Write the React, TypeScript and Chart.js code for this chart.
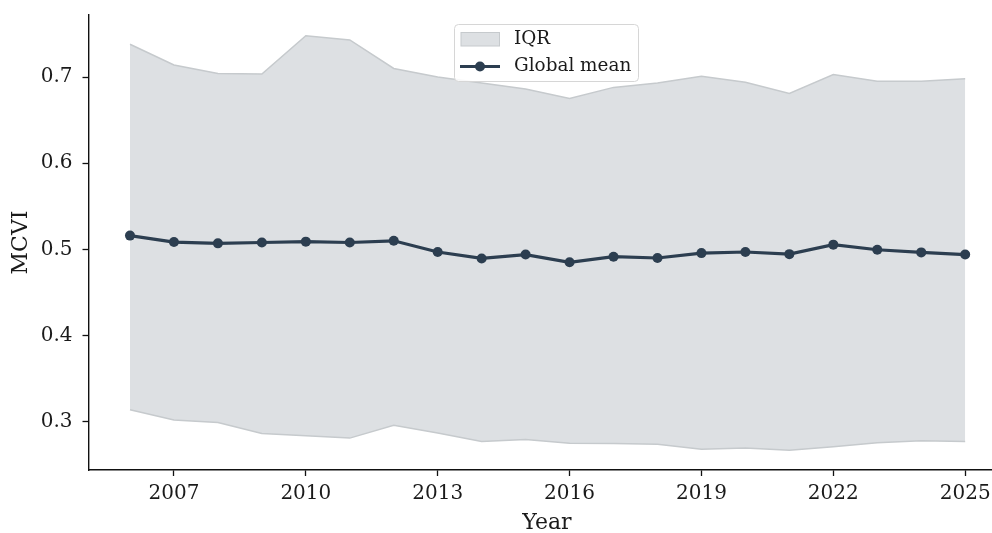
import React, { useEffect, useRef } from "react";
import { Chart, registerables } from "chart.js";

Chart.register(...registerables);

const years = [2006, 2007, 2008, 2009, 2010, 2011, 2012, 2013, 2014, 2015, 2016, 2017, 2018, 2019, 2020, 2021, 2022, 2023, 2024, 2025];
const iqrUpper = [0.738, 0.714, 0.704, 0.7035, 0.748, 0.743, 0.71, 0.7, 0.693, 0.686, 0.675, 0.688, 0.693, 0.701, 0.694, 0.681, 0.703, 0.695, 0.695, 0.698];
const globalMean = [0.516, 0.5085, 0.507, 0.508, 0.509, 0.508, 0.51, 0.497, 0.4895, 0.494, 0.485, 0.4915, 0.49, 0.4957, 0.497, 0.4945, 0.5055, 0.4996, 0.4965, 0.494];
const iqrLower = [0.314, 0.302, 0.299, 0.2864, 0.2837, 0.281, 0.296, 0.287, 0.277, 0.2795, 0.275, 0.2748, 0.274, 0.268, 0.2694, 0.267, 0.271, 0.2756, 0.278, 0.277];
const xTickValues = [2007, 2010, 2013, 2016, 2019, 2022, 2025];
const yTickValues = [0.3, 0.4, 0.5, 0.6, 0.7];
const legendLabels = ["IQR", "Global mean"];
const xTitle = "Year";
const yTitle = "MCVI";

const FONT = "'DejaVu Serif', serif";
const NAVY = "#2c3e50";
const FILL = "#dde0e3";
const EDGE = "#c6cacd";

const legendPlugin = {
  id: "customLegend",
  afterDraw(chart: any) {
    const ctx = chart.ctx;
    ctx.save();
    const x = 454.5, y = 24.5, w = 184, h = 57, r = 4;
    ctx.beginPath();
    ctx.moveTo(x + r, y);
    ctx.arcTo(x + w, y, x + w, y + h, r);
    ctx.arcTo(x + w, y + h, x, y + h, r);
    ctx.arcTo(x, y + h, x, y, r);
    ctx.arcTo(x, y, x + w, y, r);
    ctx.closePath();
    ctx.fillStyle = "rgba(255,255,255,0.85)";
    ctx.fill();
    ctx.strokeStyle = "#d6d6d6";
    ctx.lineWidth = 1;
    ctx.stroke();
    // IQR patch
    ctx.fillStyle = FILL;
    ctx.fillRect(461, 32.5, 38.5, 13.5);
    ctx.strokeStyle = EDGE;
    ctx.strokeRect(461, 32.5, 38.5, 13.5);
    // line sample
    ctx.strokeStyle = NAVY;
    ctx.lineWidth = 3;
    ctx.beginPath();
    ctx.moveTo(460, 66.5);
    ctx.lineTo(500, 66.5);
    ctx.stroke();
    ctx.fillStyle = NAVY;
    ctx.beginPath();
    ctx.arc(480, 66.5, 5, 0, Math.PI * 2);
    ctx.fill();
    ctx.fillStyle = "#1a1a1a";
    ctx.font = `18.4px ${FONT}`;
    ctx.textBaseline = "middle";
    ctx.textAlign = "left";
    ctx.fillText(legendLabels[0], 514, 39.5);
    ctx.fillText(legendLabels[1], 514, 66.5);
    // x axis title (centred on the full, partly cropped axes)
    ctx.font = `22px ${FONT}`;
    ctx.textAlign = "center";
    ctx.fillText(xTitle, 547, 523);
    ctx.restore();
  },
};

export default function App() {
  const ref = useRef<HTMLCanvasElement>(null);
  useEffect(() => {
    document.body.style.margin = "0";
    const ctx = ref.current!.getContext("2d")!;
    const chart = new Chart(ctx, {
      type: "line",
      data: {
        datasets: [
          {
            label: legendLabels[0],
            data: years.map((yr, i) => ({ x: yr, y: iqrUpper[i] })),
            borderColor: EDGE,
            borderWidth: 1.5,
            backgroundColor: FILL,
            pointRadius: 0,
            fill: "+1",
            tension: 0,
            order: 2,
          },
          {
            label: "lower",
            data: years.map((yr, i) => ({ x: yr, y: iqrLower[i] })),
            borderColor: EDGE,
            borderWidth: 1.5,
            pointRadius: 0,
            fill: false,
            tension: 0,
            order: 1,
          },
          {
            label: legendLabels[1],
            data: years.map((yr, i) => ({ x: yr, y: globalMean[i] })),
            borderColor: NAVY,
            backgroundColor: NAVY,
            borderWidth: 3.2,
            pointRadius: 5,
            pointBackgroundColor: NAVY,
            pointBorderWidth: 0,
            fill: false,
            tension: 0,
            order: 0,
          },
        ],
      },
      plugins: [legendPlugin],
      options: {
        responsive: false,
        animation: false,
        layout: { autoPadding: false, padding: { left: 0, right: 0, top: 15, bottom: 0 } },
        plugins: {
          legend: { display: false },
          tooltip: { enabled: false },
        },
        scales: {
          x: {
            type: "linear",
            min: 2005.056,
            max: 2025.61,
            afterBuildTicks: (scale: any) => {
              scale.ticks = xTickValues.map((v) => ({ value: v }));
            },
            afterFit: (scale: any) => {
              scale.height = 63;
              scale.paddingLeft = 0;
              scale.paddingRight = 0;
            },
            grid: { drawOnChartArea: false, drawTicks: true, tickLength: 6, tickColor: "#111", tickWidth: 1.3 },
            border: { display: true, color: "#111", width: 1.4 },
            ticks: {
              color: "#1a1a1a",
              font: { family: FONT, size: 20 },
              padding: 6,
              maxRotation: 0,
              autoSkip: false,
              callback: (v: any) => String(v),
            },
            title: { display: false, text: xTitle },
          },
          y: {
            type: "linear",
            min: 0.244,
            max: 0.772,
            afterBuildTicks: (scale: any) => {
              scale.ticks = yTickValues.map((v) => ({ value: v }));
            },
            afterFit: (scale: any) => {
              scale.width = 88.5;
              scale.paddingTop = 0;
              scale.paddingBottom = 0;
            },
            grid: { drawOnChartArea: false, drawTicks: true, tickLength: 6, tickColor: "#111", tickWidth: 1.3 },
            border: { display: true, color: "#111", width: 1.4 },
            ticks: {
              color: "#1a1a1a",
              font: { family: FONT, size: 20 },
              padding: 10,
              callback: (v: any) => Number(v).toFixed(1),
            },
            title: {
              display: true,
              text: yTitle,
              color: "#1a1a1a",
              font: { family: FONT, size: 22, lineHeight: 1.2 },
              padding: { top: 8, bottom: 0 },
            },
          },
        },
      },
    });
    return () => chart.destroy();
  }, []);
  return (
    <div style={{ width: 992, height: 533 }}>
      <canvas ref={ref} width={992} height={533} />
    </div>
  );
}
